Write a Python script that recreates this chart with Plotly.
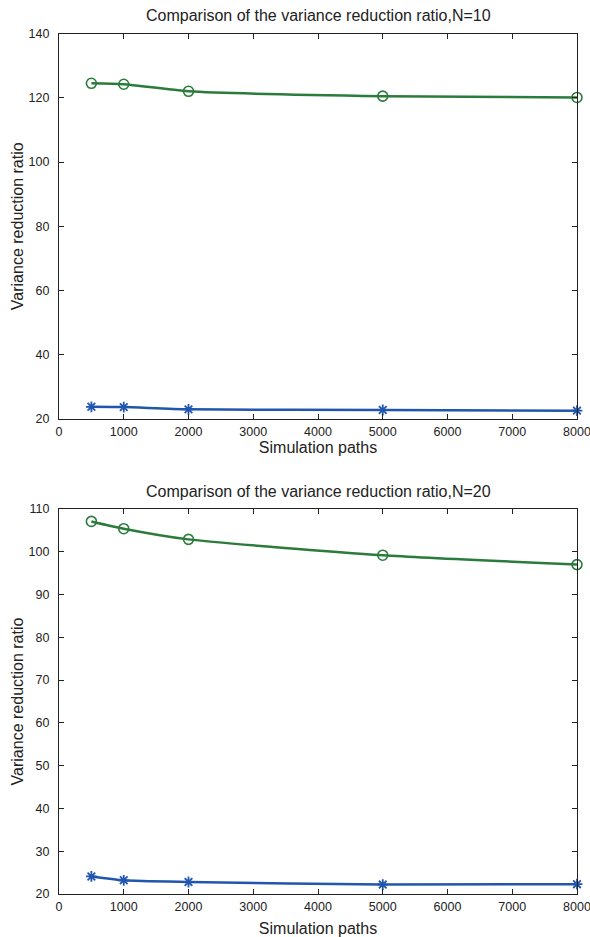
import plotly.graph_objects as go

paths = [500, 1000, 2000, 5000, 8000]
n10_green = [124.5, 124.2, 122.0, 120.5, 120.1]
n10_blue = [23.8, 23.7, 23.0, 22.8, 22.6]
n20_green = [107.1, 105.4, 102.9, 99.2, 97.0]
n20_blue = [24.1, 23.2, 22.8, 22.2, 22.3]
x_ticks = [0, 1000, 2000, 3000, 4000, 5000, 6000, 7000, 8000]

titles = ["Comparison of the variance reduction ratio,N=10",
          "Comparison of the variance reduction ratio,N=20"]

GREEN = "#2b7b3c"
BLUE = "#2156ae"
FONT = "Liberation Sans, Arial, sans-serif"

fig = go.Figure()

W, H = 590, 937
x0, x1 = 59 / W, 577 / W
doms = [(1 - 419 / H, 1 - 33.5 / H), (1 - 894 / H, 1 - 509 / H)]
yranges = [(20, 140, 20), (20, 110, 10)]
series = [(n10_green, n10_blue), (n20_green, n20_blue)]
xstand = [2, 14]

for i, ((g, b), dom, (lo, hi, dt), t) in enumerate(zip(series, doms, yranges, titles)):
    xa = "x" if i == 0 else "x2"
    ya = "y" if i == 0 else "y2"
    fig.add_trace(go.Scatter(x=paths, y=g, mode="lines+markers", xaxis=xa, yaxis=ya,
                             line=dict(color=GREEN, width=2.5, shape="spline", smoothing=0.6),
                             marker=dict(symbol="circle-open", size=10, color=GREEN, line=dict(width=1.6)),
                             showlegend=False, cliponaxis=False))
    fig.add_trace(go.Scatter(x=paths, y=b, mode="lines+markers", xaxis=xa, yaxis=ya,
                             line=dict(color=BLUE, width=2.5, shape="spline", smoothing=0.6),
                             marker=dict(symbol="asterisk-open", size=9, color=BLUE, line=dict(width=1.8, color=BLUE)),
                             showlegend=False, cliponaxis=False))
    axcommon = dict(showline=True, linecolor="#222", linewidth=1.2, mirror="ticks",
                    ticks="inside", ticklen=5, tickcolor="#222", showgrid=False, zeroline=False,
                    automargin=False,
                    tickfont=dict(family=FONT, size=12.5, color="#222"))
    xkey = "xaxis" if i == 0 else "xaxis2"
    ykey = "yaxis" if i == 0 else "yaxis2"
    yticks = list(range(lo, hi + 1, dt))
    fig.update_layout(**{
        xkey: dict(domain=[x0, x1], anchor=ya, range=[0, 8000], tickmode="array", tickvals=x_ticks,
                   ticktext=[str(v) for v in x_ticks], ticklabelstandoff=1, ticklabeloverflow="allow",
                   title=dict(text="Simulation paths", font=dict(family=FONT, size=16, color="#222"), standoff=xstand[i]),
                   **axcommon),
        ykey: dict(domain=list(dom), anchor=xa, range=[lo, hi], tickmode="array", tickvals=yticks,
                   ticktext=[str(v) for v in yticks], ticklabelstandoff=6,
                   title=dict(text="Variance reduction ratio", font=dict(family=FONT, size=16, color="#222"), standoff=0),
                   **axcommon),
    })
    fig.add_annotation(text=t, xref="paper", yref="paper", x=(x0 + x1) / 2, y=dom[1] + 7 / H,
                       xanchor="center", yanchor="bottom", showarrow=False,
                       font=dict(family=FONT, size=16, color="#222"))

fig.update_layout(width=W, height=H, margin=dict(l=0, r=0, t=0, b=0, autoexpand=False),
                  plot_bgcolor="white", paper_bgcolor="white")

fig.write_html("out.html")
